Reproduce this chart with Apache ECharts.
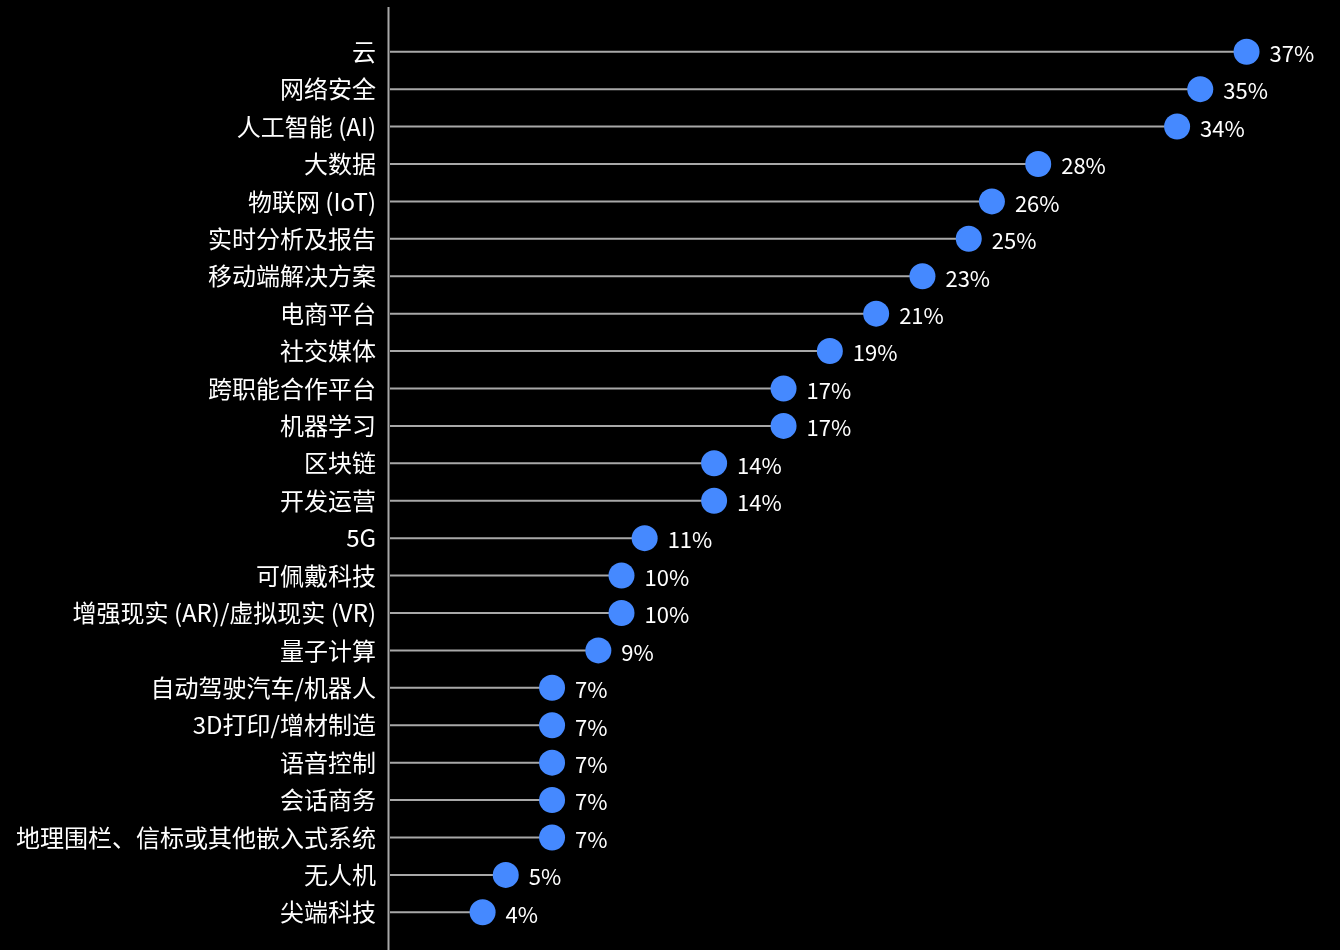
<!DOCTYPE html>
<html>
<head>
<meta charset="utf-8">
<script src="https://cdn.jsdelivr.net/npm/echarts@6/dist/echarts.min.js"></script>
<style>
  html, body { margin: 0; padding: 0; background: #000; }
  #chart { width: 1340px; height: 950px; }
</style>
</head>
<body>
<div id="chart"></div>
<script>
// Technology adoption shares, top to bottom
const categories = [
  '云', '网络安全', '人工智能 (AI)', '大数据', '物联网 (IoT)', '实时分析及报告',
  '移动端解决方案', '电商平台', '社交媒体', '跨职能合作平台', '机器学习', '区块链',
  '开发运营', '5G', '可佩戴科技', '增强现实 (AR)/虚拟现实 (VR)', '量子计算',
  '自动驾驶汽车/机器人', '3D打印/增材制造', '语音控制', '会话商务',
  '地理围栏、信标或其他嵌入式系统', '无人机', '尖端科技'
];
const values = [37, 35, 34, 28, 26, 25, 23, 21, 19, 17, 17, 14, 14, 11, 10, 10, 9, 7, 7, 7, 7, 7, 5, 4];

const FONT = '"Noto Sans CJK SC", "Noto Sans", sans-serif';
const chart = echarts.init(document.getElementById('chart'), null, { renderer: 'canvas' });

chart.setOption({
  backgroundColor: '#000000',
  animation: false,
  grid: { left: 390, right: 24, top: 33, bottom: 19, containLabel: false },
  xAxis: {
    type: 'value', min: 0, max: 40,
    show: false
  },
  yAxis: {
    type: 'category',
    data: categories,
    inverse: true,
    axisLine: { show: false },
    axisTick: { show: false },
    splitLine: { show: false },
    axisLabel: {
      color: '#ffffff',
      fontSize: 24,
      fontFamily: FONT,
      margin: 14
    }
  },
  series: [
    {
      // stems
      type: 'bar',
      data: values,
      barWidth: 2,
      itemStyle: { color: '#a8a8a8' },
      silent: true,
      z: 1
    },
    {
      // heads
      type: 'scatter',
      data: values,
      symbol: 'circle',
      symbolSize: 26,
      itemStyle: { color: '#4589ff', opacity: 1 },
      label: {
        show: true,
        position: 'right',
        distance: 10,
        offset: [0, 2],
        color: '#ffffff',
        fontSize: 22,
        fontFamily: FONT,
        formatter: p => p.value + '%'
      },
      z: 3
    }
  ]
});

// vertical baseline just left of zero, running the full height of the page
const x0 = Math.round(chart.convertToPixel({ xAxisIndex: 0 }, 0)) - 1.5;
chart.setOption({
  graphic: [{
    type: 'line',
    shape: { x1: x0, y1: 7, x2: x0, y2: 950 },
    style: { stroke: '#a8a8a8', lineWidth: 2 },
    z: 10
  }]
});
</script>
</body>
</html>
